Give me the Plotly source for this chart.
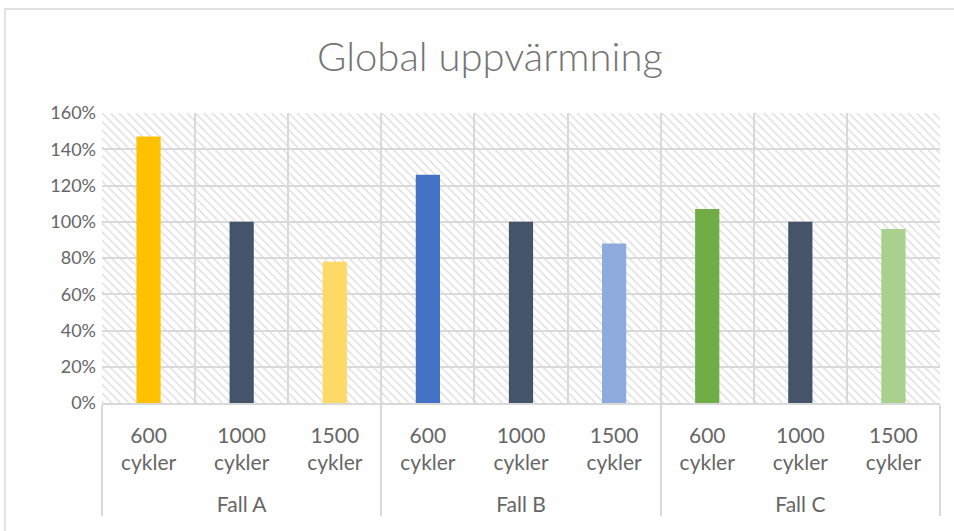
import plotly.graph_objects as go

# Data
cases = ["Fall A", "Fall B", "Fall C"]
cycles = ["600<br>cykler<br> ", "1000<br>cykler<br> ", "1500<br>cykler<br> "]
values = {
    "Fall A": [1.47, 1.00, 0.78],
    "Fall B": [1.26, 1.00, 0.88],
    "Fall C": [1.07, 1.00, 0.96],
}
bar_colors = {
    "Fall A": ["#FFC000", "#44546A", "#FFD966"],
    "Fall B": ["#4472C4", "#44546A", "#8FAADC"],
    "Fall C": ["#70AD47", "#44546A", "#A9D18E"],
}
y_max = 1.6

outer = [c for c in cases for _ in cycles]
inner = [cy for _ in cases for cy in cycles]
ys = [v for c in cases for v in values[c]]
cols = [col for c in cases for col in bar_colors[c]]

GRID = "#d9d9d9"
TEXT = "#666666"
FONT = "Lato"

fig = go.Figure()

# hatched plot-area background
fig.add_trace(go.Bar(
    x=[outer, inner], y=[y_max] * len(inner), width=1.0,
    marker=dict(color="#d9d9d9", line=dict(width=0),
                pattern=dict(shape="\\", size=6, solidity=0.2, fillmode="replace")),
    hoverinfo="skip", showlegend=False,
))

# values
fig.add_trace(go.Bar(
    x=[outer, inner], y=ys, width=0.26,
    marker=dict(color=cols, line=dict(width=0)),
    showlegend=False,
))

fig.update_layout(
    width=954, height=531,
    margin=dict(l=102, r=14, t=113, b=128),
    paper_bgcolor="white", plot_bgcolor="white",
    barmode="overlay",
    font=dict(family=FONT, color=TEXT, size=18),
    title=dict(text="Global uppvärmning", x=0.463, xref="paper", xanchor="center",
               y=1 - 57 / 531, yanchor="middle",
               font=dict(family=FONT, size=40, color="#747474", weight=300)),
    xaxis=dict(
        type="multicategory", tickson="boundaries", showgrid=True,
        gridcolor=GRID, gridwidth=1.5, ticks="", showline=True,
        linecolor=GRID, linewidth=1.5, dividercolor=GRID, dividerwidth=1.5,
        tickfont=dict(size=21, color=TEXT), ticklabelstandoff=13,
    ),
    yaxis=dict(
        range=[0, y_max], dtick=0.2, tickformat=".0%", showgrid=True,
        gridcolor=GRID, gridwidth=1.5, zeroline=False, showline=False,
        ticks="", ticklen=0, ticklabelstandoff=5,
        tickfont=dict(size=18, color=TEXT),
    ),
    shapes=[dict(type="rect", xref="paper", yref="paper",
                 x0=(5 - 102) / 838, x1=2, y0=-2, y1=(403 - 9) / 290,
                 line=dict(color=GRID, width=1.5), layer="below")],
)

fig.write_html("out.html")
